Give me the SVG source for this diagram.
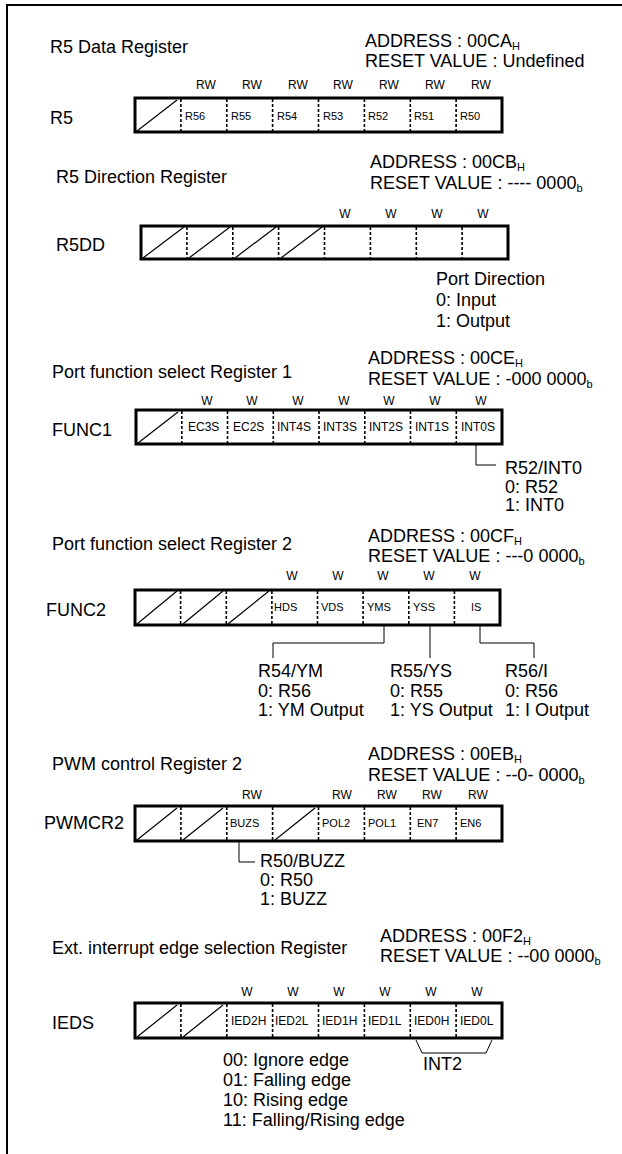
<svg xmlns="http://www.w3.org/2000/svg" width="622" height="1154" viewBox="0 0 622 1154">
<style>
text{font-family:"Liberation Sans",Arial,sans-serif;fill:#000}
.t{font-size:18px}
.s{font-size:12px}
.c{font-size:11px}
.c2{font-size:12px}
.m{text-anchor:middle}
.sub{font-size:11px}
.box{fill:none;stroke:#000;stroke-width:3}
.dv{stroke:#000;stroke-width:1.6;stroke-dasharray:3 2}
.dg{stroke:#000;stroke-width:1.2}
.ln{fill:none;stroke:#000;stroke-width:1}
.fr{fill:none;stroke:#000;stroke-width:2}
</style>
<rect width="622" height="1154" fill="#fff"/>
<path class="fr" d="M7 1154V5H622"/>

<g id="r5">
<text class="t" x="50" y="53">R5 Data Register</text>
<text class="t" x="365" y="47">ADDRESS : 00CA<tspan class="sub" dy="3">H</tspan></text>
<text class="t" x="365" y="67">RESET VALUE : Undefined</text>
<g class="s m"><text x="206" y="89">RW</text><text x="252" y="89">RW</text><text x="298" y="89">RW</text><text x="343" y="89">RW</text><text x="389" y="89">RW</text><text x="435" y="89">RW</text><text x="481" y="89">RW</text></g>
<text class="t" x="50" y="124">R5</text>
<rect class="box" x="135" y="98" width="367" height="34"/>
<path class="dv" d="M180.9 99V131M226.8 99V131M272.6 99V131M318.5 99V131M364.4 99V131M410.3 99V131M456.1 99V131"/>
<path class="dg" d="M137 131L177 100"/>
<g class="c"><text x="185" y="120">R56</text><text x="231" y="120">R55</text><text x="277" y="120">R54</text><text x="323" y="120">R53</text><text x="368" y="120">R52</text><text x="414" y="120">R51</text><text x="460" y="120">R50</text></g>
</g>

<g id="r5dd">
<text class="t" x="56" y="183">R5 Direction Register</text>
<text class="t" x="370" y="168">ADDRESS : 00CB<tspan class="sub" dy="3">H</tspan></text>
<text class="t" x="370" y="189">RESET VALUE : ---- 0000<tspan class="sub" dy="3">b</tspan></text>
<g class="s m"><text x="345" y="218">W</text><text x="391" y="218">W</text><text x="437" y="218">W</text><text x="483" y="218">W</text></g>
<text class="t" x="56" y="251">R5DD</text>
<rect class="box" x="141" y="226" width="367" height="33"/>
<path class="dv" d="M186.9 227V258M232.8 227V258M278.6 227V258M324.5 227V258M370.4 227V258M416.3 227V258M462.1 227V258"/>
<path class="dg" d="M143 258L184 227M189 258L230 227M235 258L276 227M281 258L322 227"/>
<text class="t" x="436" y="285">Port Direction</text>
<text class="t" x="436" y="306">0: Input</text>
<text class="t" x="436" y="327">1: Output</text>
</g>

<g id="func1">
<text class="t" x="52" y="378">Port function select Register 1</text>
<text class="t" x="368" y="364">ADDRESS : 00CE<tspan class="sub" dy="3">H</tspan></text>
<text class="t" x="368" y="385">RESET VALUE : -000 0000<tspan class="sub" dy="3">b</tspan></text>
<g class="s m"><text x="207" y="405">W</text><text x="252" y="405">W</text><text x="298" y="405">W</text><text x="344" y="405">W</text><text x="389" y="405">W</text><text x="435" y="405">W</text><text x="481" y="405">W</text></g>
<text class="t" x="52" y="436">FUNC1</text>
<rect class="box" x="136" y="410" width="366" height="34"/>
<path class="dv" d="M181.8 411V443M227.5 411V443M273.3 411V443M319 411V443M364.8 411V443M410.5 411V443M456.3 411V443"/>
<path class="dg" d="M138 443L178 412"/>
<g class="c2"><text x="188" y="431">EC3S</text><text x="233" y="431">EC2S</text><text x="277" y="431">INT4S</text><text x="323" y="431">INT3S</text><text x="369" y="431">INT2S</text><text x="415" y="431">INT1S</text><text x="461" y="431">INT0S</text></g>
<text class="t" x="505" y="474">R52/INT0</text>
<text class="t" x="505" y="493">0: R52</text>
<text class="t" x="505" y="511">1: INT0</text>
</g>

<g id="func2">
<text class="t" x="52" y="550">Port function select Register 2</text>
<text class="t" x="368" y="542">ADDRESS : 00CF<tspan class="sub" dy="3">H</tspan></text>
<text class="t" x="368" y="562">RESET VALUE : ---0 0000<tspan class="sub" dy="3">b</tspan></text>
<g class="s m"><text x="292" y="580">W</text><text x="338" y="580">W</text><text x="383" y="580">W</text><text x="429" y="580">W</text><text x="475" y="580">W</text></g>
<text class="t" x="46" y="616">FUNC2</text>
<rect class="box" x="135" y="590" width="365" height="35"/>
<path class="dv" d="M180.6 591V624M226.3 591V624M271.9 591V624M317.5 591V624M363.1 591V624M408.8 591V624M454.4 591V624"/>
<path class="dg" d="M137 624L177 591M183 624L223 591M228 624L269 591"/>
<g class="c"><text x="274" y="611">HDS</text><text x="321" y="611">VDS</text><text x="367" y="611">YMS</text><text x="413" y="611">YSS</text><text x="471" y="611">IS</text></g>
<text class="t" x="258" y="677">R54/YM</text>
<text class="t" x="258" y="697">0: R56</text>
<text class="t" x="258" y="716">1: YM Output</text>
<text class="t" x="390" y="677">R55/YS</text>
<text class="t" x="390" y="697">0: R55</text>
<text class="t" x="390" y="716">1: YS Output</text>
<text class="t" x="505" y="677">R56/I</text>
<text class="t" x="505" y="697">0: R56</text>
<text class="t" x="505" y="716">1: I Output</text>
</g>

<g id="pwmcr2">
<text class="t" x="52" y="770">PWM control Register 2</text>
<text class="t" x="368" y="760">ADDRESS : 00EB<tspan class="sub" dy="3">H</tspan></text>
<text class="t" x="368" y="781">RESET VALUE : --0- 0000<tspan class="sub" dy="3">b</tspan></text>
<g class="s m"><text x="252" y="799">RW</text><text x="342" y="799">RW</text><text x="387" y="799">RW</text><text x="432" y="799">RW</text><text x="478" y="799">RW</text></g>
<text class="t" x="44" y="829">PWMCR2</text>
<rect class="box" x="135" y="806" width="367" height="35"/>
<path class="dv" d="M180.9 807V840M226.8 807V840M272.6 807V840M318.5 807V840M364.4 807V840M410.3 807V840M456.1 807V840"/>
<path class="dg" d="M137 840L177 808M183 840L223 808M275 840L315 808"/>
<g class="c"><text x="230" y="827">BUZS</text><text x="322" y="827">POL2</text><text x="368" y="827">POL1</text><text x="417" y="827">EN7</text><text x="460" y="827">EN6</text></g>
<text class="t" x="260" y="867">R50/BUZZ</text>
<text class="t" x="260" y="886">0: R50</text>
<text class="t" x="260" y="905">1: BUZZ</text>
</g>

<g id="ieds">
<text class="t" x="52" y="954">Ext. interrupt edge selection Register</text>
<text class="t" x="380" y="942">ADDRESS : 00F2<tspan class="sub" dy="3">H</tspan></text>
<text class="t" x="380" y="962">RESET VALUE : --00 0000<tspan class="sub" dy="3">b</tspan></text>
<g class="s m"><text x="247" y="996">W</text><text x="293" y="996">W</text><text x="339" y="996">W</text><text x="385" y="996">W</text><text x="431" y="996">W</text><text x="477" y="996">W</text></g>
<text class="t" x="52" y="1029">IEDS</text>
<rect class="box" x="135" y="1003" width="367" height="35"/>
<path class="dv" d="M180.9 1004V1037M226.8 1004V1037M272.6 1004V1037M318.5 1004V1037M364.4 1004V1037M410.3 1004V1037M456.1 1004V1037"/>
<path class="dg" d="M137 1037L177 1005M183 1037L223 1005"/>
<g class="c2"><text x="231" y="1025">IED2H</text><text x="275" y="1025">IED2L</text><text x="322" y="1025">IED1H</text><text x="368" y="1025">IED1L</text><text x="414" y="1025">IED0H</text><text x="460" y="1025">IED0L</text></g>
<text class="t" x="423" y="1070">INT2</text>
<text class="t" x="223" y="1066">00: Ignore edge</text>
<text class="t" x="223" y="1086">01: Falling edge</text>
<text class="t" x="223" y="1106">10: Rising edge</text>
<text class="t" x="223" y="1126">11: Falling/Rising edge</text>
</g>

<g id="connectors">
<path class="ln" d="M476 444V465H496"/>
<path class="ln" d="M384 625V643H273V658"/>
<path class="ln" d="M430 625V658"/>
<path class="ln" d="M480 625V643H534V658"/>
<path class="ln" d="M239 841V862H255"/>
<path class="ln" d="M416 1040L422 1053H486L492 1040"/>
</g>
</svg>
